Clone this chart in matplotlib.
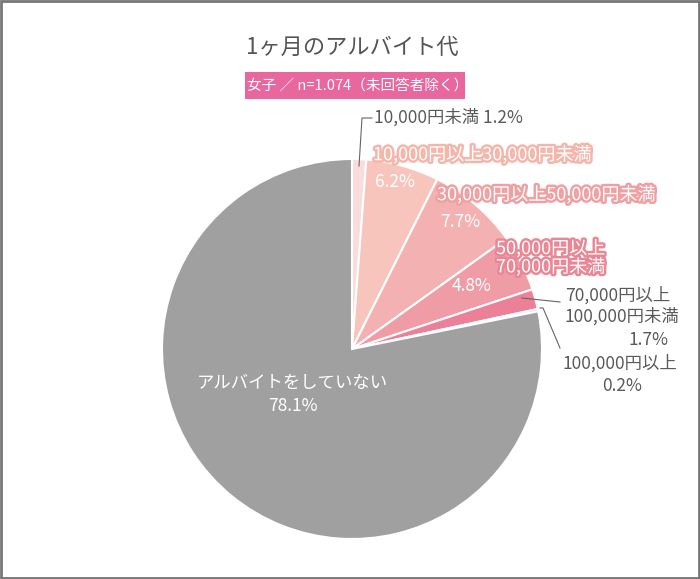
import numpy as np
import matplotlib
matplotlib.use("Agg")
import matplotlib.pyplot as plt
import matplotlib.patheffects as pe

plt.rcParams['font.family'] = ['Noto Sans CJK JP', 'DejaVu Sans']

# data
categories = ['10,000円未満', '10,000円以上30,000円未満', '30,000円以上50,000円未満',
              '50,000円以上\n70,000円未満', '70,000円以上\n100,000円未満',
              '100,000円以上', 'アルバイトをしていない']
shares = [1.2, 6.2, 7.7, 4.8, 1.7, 0.2, 78.1]
colors = ['#fadcdc', '#f7c5bb', '#f4b1b1', '#f09ca6', '#ec8099', '#e86a90', '#a0a0a0']

title = '1ヶ月のアルバイト代'
subtitle = '女子 ／ n=1.074（未回答者除く）'

W, H = 700, 579
fig = plt.figure(figsize=(W / 100, H / 100), dpi=100)

# pie drawn in its own axes so it stays clockwise from the top
cx, cy, r = 352, 349, 190
pax = fig.add_axes([(cx - r) / W, 1 - (cy + r) / H, 2 * r / W, 2 * r / H])
pax.pie(shares, colors=colors, startangle=90, counterclock=False,
        wedgeprops=dict(edgecolor='white', linewidth=1.5))
pax.set_xlim(-1, 1)
pax.set_ylim(-1, 1)
pax.axis('off')

# overlay in pixel coordinates for the texts and leader lines
ax = fig.add_axes([0, 0, 1, 1])
ax.set_xlim(0, W)
ax.set_ylim(H, 0)
ax.axis('off')

# frame
ax.add_patch(plt.Rectangle((1, 1), W - 2, H - 2, fill=False, edgecolor='#777777', lw=2))

ax.text(352, 47, title, ha='center', va='center', fontsize=16, color='#555555')
ax.add_patch(plt.Rectangle((245, 72), 220, 27, color='#e9679f', lw=0))
ax.text(247, 86, subtitle, ha='left', va='center', fontsize=10.5, color='white')

dark = '#5a5a5a'
fs = 12.5

# outside labels with leader lines
ax.plot([359, 362, 372], [166, 118, 118], color='#666666', lw=0.8)
ax.text(374, 117, categories[0] + ' ' + f'{shares[0]}%', ha='left', va='center', fontsize=fs, color=dark)

ax.plot([522, 560], [298, 302], color='#666666', lw=0.8)
ax.text(565, 306, categories[4], ha='left', va='center', fontsize=fs, color=dark, linespacing=1.2)
ax.text(668, 340, f'{shares[4]}%', ha='right', va='center', fontsize=fs, color=dark)

ax.plot([540, 543, 560], [308, 308, 348], color='#666666', lw=0.8)
ax.text(562, 363, categories[5], ha='left', va='center', fontsize=fs, color=dark)
ax.text(622, 386, f'{shares[5]}%', ha='center', va='center', fontsize=fs, color=dark)

# inside labels, white with coloured outline
def outlined(x, y, s, edge, **kw):
    t = ax.text(x, y, s, color='white', fontsize=13, **kw)
    t.set_path_effects([pe.withStroke(linewidth=3.5, foreground=edge)])

outlined(373, 155, categories[1], '#f4b5ab', ha='left', va='center')
ax.text(375, 182, f'{shares[1]}%', ha='left', va='center', fontsize=fs, color='white')
outlined(437, 195, categories[2], '#efa0a2', ha='left', va='center')
ax.text(440, 222, f'{shares[2]}%', ha='left', va='center', fontsize=fs, color='white')
outlined(496, 258, categories[3], '#ea8797', ha='left', va='center', linespacing=1.0)
ax.text(452, 286, f'{shares[3]}%', ha='left', va='center', fontsize=fs, color='white')

ax.text(292, 383, categories[6], ha='center', va='center', fontsize=fs, color='white')
ax.text(293, 406, f'{shares[6]}%', ha='center', va='center', fontsize=fs, color='white')

fig.savefig('out.png', dpi=100)
